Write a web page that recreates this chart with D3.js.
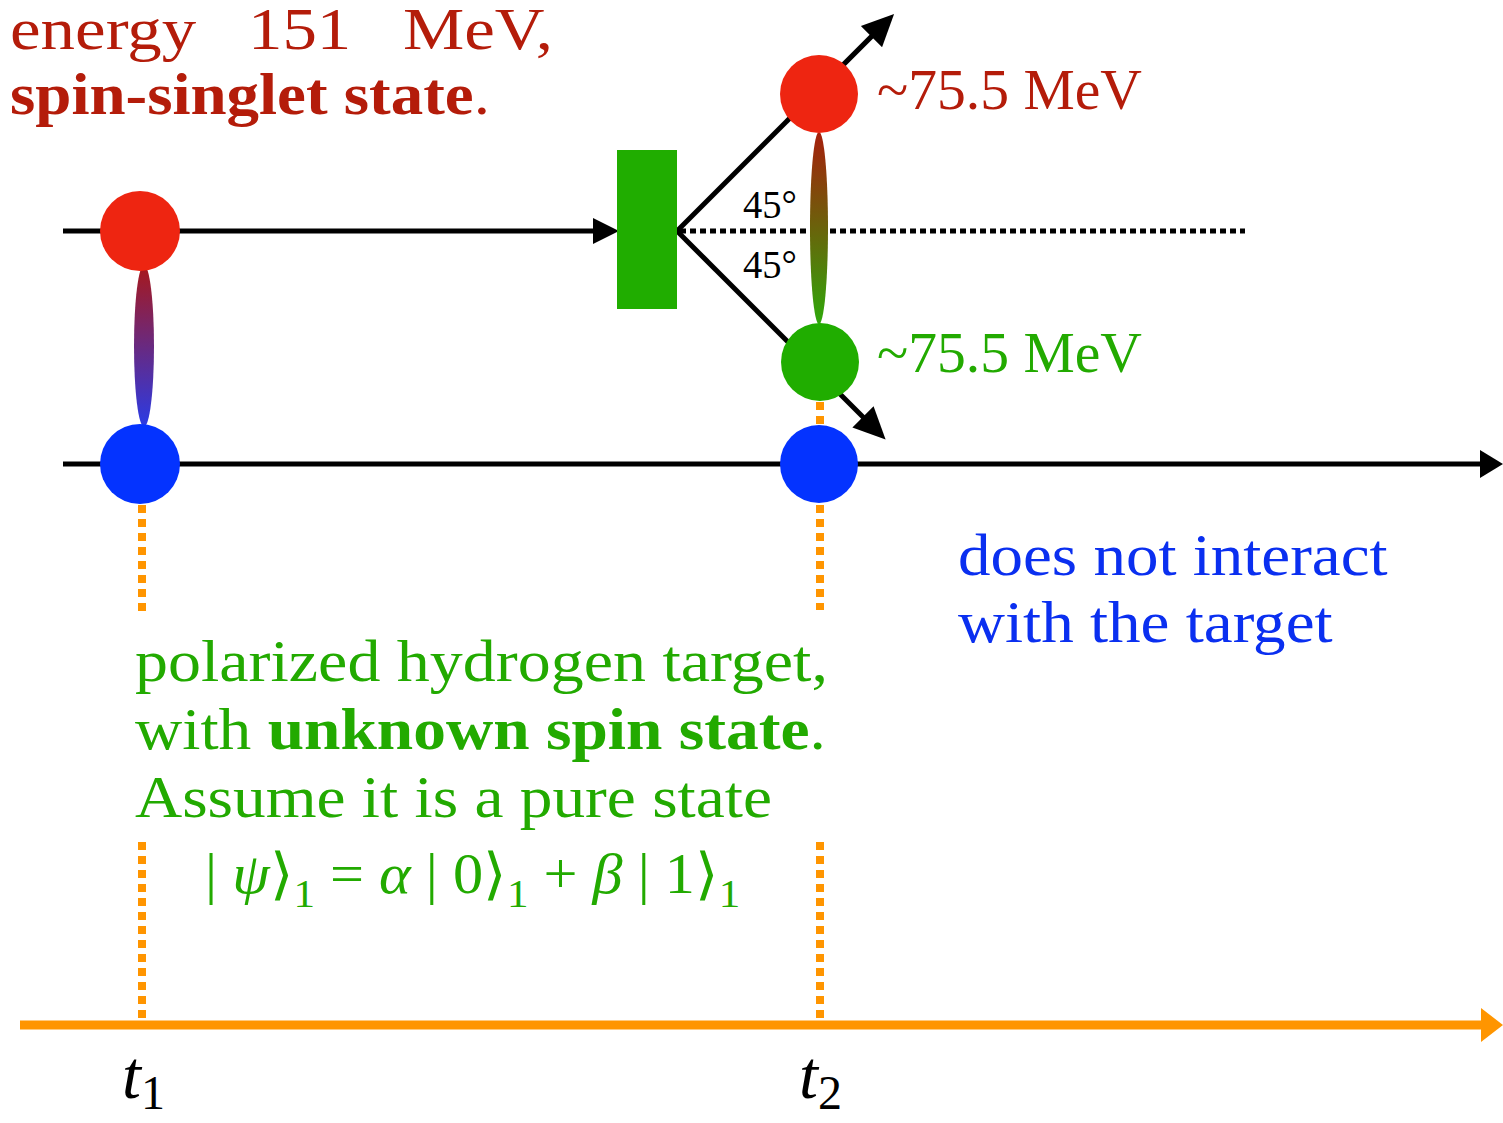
<!DOCTYPE html>
<html><head><meta charset="utf-8">
<script src="https://cdn.jsdelivr.net/npm/d3@7"></script>
<style>body{margin:0;background:#fff}svg{display:block}</style>
</head><body>
<script>
// ---- data ----
const times = ["t1", "t2"];
const timeSubs = ["1", "2"];
const tracks = ["incoming", "partner"];
const angles = [45, -45];
const energyIn = 151;
const energyOut = [75.5, 75.5];
const headerLines = ["energy   151   MeV,", "spin-singlet state."];
const blueLines = ["does not interact", "with the target"];
const greenLines = ["polarized hydrogen target,", "with |unknown spin state|.", "Assume it is a pure state"];

const W = 1503, H = 1123;
const FONT = "'Liberation Serif', 'Times New Roman', serif";
const RED = "#ee2511", BLUE = "#0433ff", GREEN = "#20ad00", ORANGE = "#ff9500";
const TXTRED = "#b41c0a", TXTBLUE = "#0a2ff0", TXTGREEN = "#22aa00";

const svg = d3.select("body").append("svg").attr("width", W).attr("height", H);
const defs = svg.append("defs");

// scales
const x = d3.scalePoint().domain(times).range([142, 819]);
const y = d3.scalePoint().domain(tracks).range([231, 464]);
const yAxis = 1025;

function grad(id, c1, c2) {
  const g = defs.append("linearGradient").attr("id", id).attr("x1", 0).attr("y1", 0).attr("x2", 0).attr("y2", 1);
  g.append("stop").attr("offset", "0%").attr("stop-color", c1);
  g.append("stop").attr("offset", "100%").attr("stop-color", c2);
}
grad("g1", "#a8181a", "#2a3be6");
grad("g2", "#a61e0c", "#2ea80a");

function arrowHead(tipX, tipY, angleDeg, len, half, color) {
  const a = angleDeg * Math.PI / 180;
  const bx = tipX - len * Math.cos(a), by = tipY - len * Math.sin(a);
  const px = -Math.sin(a) * half, py = Math.cos(a) * half;
  svg.append("path").attr("d", `M${tipX},${tipY}L${bx + px},${by + py}L${bx - px},${by - py}Z`).attr("fill", color);
}

// stretch a text horizontally to a target width (reference face is wider)
function fit(sel, x0, width) {
  const w = sel.node().getBBox().width;
  const s = width / w;
  sel.attr("transform", `translate(${x0},0) scale(${s},1) translate(${-x0},0)`);
  return sel;
}
function txt(x0, y0, size, color) {
  return svg.append("text").attr("x", x0).attr("y", y0).attr("font-size", size).attr("fill", color)
    .attr("font-family", FONT).style("white-space", "pre");
}

// orange dotted verticals
const dotSegs = [[x("t1"), 505, 612], [x("t1"), 842, 1020], [x("t2") + 1, 402, 428], [x("t2") + 1, 505, 610], [x("t2") + 1, 842, 1020]];
dotSegs.forEach(s => svg.append("line").attr("x1", s[0]).attr("x2", s[0]).attr("y1", s[1]).attr("y2", s[2])
  .attr("stroke", ORANGE).attr("stroke-width", 8).attr("stroke-dasharray", "8,6"));

// orange time axis
svg.append("line").attr("x1", 20).attr("x2", 1485).attr("y1", yAxis).attr("y2", yAxis).attr("stroke", ORANGE).attr("stroke-width", 9);
arrowHead(1503, yAxis, 0, 22, 17, ORANGE);

// black track lines
svg.append("line").attr("x1", 63).attr("x2", 598).attr("y1", y("incoming")).attr("y2", y("incoming")).attr("stroke", "#000").attr("stroke-width", 5);
arrowHead(619, y("incoming"), 0, 26, 13, "#000");
svg.append("line").attr("x1", 63).attr("x2", 1485).attr("y1", y("partner")).attr("y2", y("partner")).attr("stroke", "#000").attr("stroke-width", 5);
arrowHead(1503, y("partner"), 0, 23, 14, "#000");

// dotted continuation
svg.append("line").attr("x1", 680).attr("x2", 1245).attr("y1", y("incoming")).attr("y2", y("incoming"))
  .attr("stroke", "#000").attr("stroke-width", 5).attr("stroke-dasharray", "6,4");

// scattered arrows
const vx = 677, vy = y("incoming");
angles.forEach(a => {
  const len = a > 0 ? 307 : 295;
  const r = -a * Math.PI / 180;
  const tx = vx + len * Math.cos(r), ty = vy + len * Math.sin(r);
  const s = 0.93;
  svg.append("line").attr("x1", vx).attr("y1", vy).attr("x2", vx + len * s * Math.cos(r)).attr("y2", vy + len * s * Math.sin(r))
    .attr("stroke", "#000").attr("stroke-width", 5);
  arrowHead(tx, ty, -a, 32, 15, "#000");
});

// target rect
svg.append("rect").attr("x", 617).attr("y", 150).attr("width", 60).attr("height", 159).attr("fill", GREEN);

// 45 labels
fit(txt(743, 218, 40, "#000").text(angles[0] + "°"), 743, 54);
fit(txt(743, 278, 40, "#000").text(Math.abs(angles[1]) + "°"), 743, 54);

// entanglement ellipses
svg.append("ellipse").attr("cx", 144).attr("cy", 346).attr("rx", 10).attr("ry", 81).attr("fill", "url(#g1)");
svg.append("ellipse").attr("cx", 819).attr("cy", 228).attr("rx", 9).attr("ry", 96).attr("fill", "url(#g2)");

// particles
const R = 40;
svg.append("circle").attr("cx", x("t1") - 2).attr("cy", y("incoming")).attr("r", R).attr("fill", RED);
svg.append("circle").attr("cx", x("t1") - 2).attr("cy", y("partner")).attr("r", R).attr("fill", BLUE);
svg.append("circle").attr("cx", x("t2")).attr("cy", 94).attr("r", 39).attr("fill", RED);
svg.append("circle").attr("cx", x("t2") + 1).attr("cy", 362).attr("r", 39).attr("fill", GREEN);
svg.append("circle").attr("cx", x("t2")).attr("cy", y("partner")).attr("r", 39).attr("fill", BLUE);

// energy labels
fit(txt(877, 109, 56, TXTRED).text("~" + energyOut[0] + " MeV"), 877, 265);
fit(txt(877, 372, 56, TXTGREEN).text("~" + energyOut[1] + " MeV"), 877, 265);

// header
fit(txt(10, 49, 60, TXTRED).text(headerLines[0]), 10, 543);
const h2 = txt(10, 114, 60, TXTRED);
h2.append("tspan").attr("font-weight", "bold").text(headerLines[1].replace(".", ""));
h2.append("tspan").text(".");
fit(h2, 10, 480);

// blue text
blueLines.forEach((t, i) => fit(txt(958, 575 + i * 67, 60, TXTBLUE).text(t), 958, [430, 375][i]));

// green text
const greenW = [693, 691, 637];
greenLines.forEach((t, i) => {
  const tx = txt(135, 681 + i * 68, 60, TXTGREEN);
  t.split("|").forEach((p, j) => tx.append("tspan").attr("font-weight", j % 2 ? "bold" : "normal").text(p));
  fit(tx, 135, greenW[i]);
});

// formula
const f = txt(205, 893, 56, TXTGREEN);
const parts = [["| ", ""], ["ψ", "i"], ["⟩", ""], ["1", "s"], [" = ", ""], ["α", "i"], [" | 0⟩", ""], ["1", "s"], [" + ", ""], ["β", "i"], [" | 1⟩", ""], ["1", "s"]];
parts.forEach((p, i) => {
  const ts = f.append("tspan").text(p[0]);
  if (p[1] === "i") ts.attr("font-style", "italic");
  if (p[1] === "s") ts.attr("font-size", 40).attr("dy", 14);
  else if (i > 0 && parts[i - 1][1] === "s") ts.attr("dy", -14);
});
fit(f, 205, 535);

// time labels
times.forEach((t, i) => {
  const tx = txt(x(t) - 20, 1098, 68, "#000");
  tx.append("tspan").attr("font-style", "italic").text("t");
  tx.append("tspan").attr("font-size", 48).attr("dy", 11).text(timeSubs[i]);
});
</script>
</body></html>
